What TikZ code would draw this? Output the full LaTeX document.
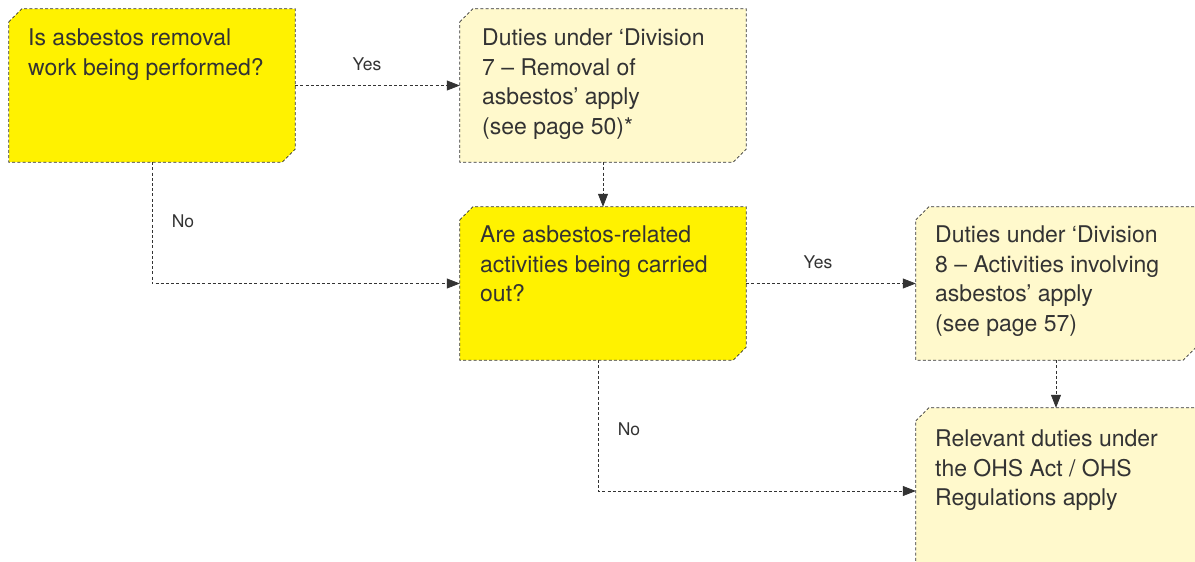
\documentclass[tikz,border=0pt]{standalone}
\usepackage{fontspec}
\setmainfont{TeX Gyre Heros}
\usetikzlibrary{arrows.meta}
\definecolor{qyellow}{HTML}{FFF200}
\definecolor{qpale}{HTML}{FFF9CC}
\definecolor{qtext}{HTML}{333333}
\definecolor{qline}{HTML}{333333}
\newcommand{\chambox}[2]{%
  \path[boxline, fill=#2] ([yshift=-13pt]#1.north west) -- ([xshift=13pt]#1.north west)
    -- (#1.north east) -- ([yshift=13pt]#1.south east) -- ([xshift=-13pt]#1.south east)
    -- (#1.south west) -- cycle;}
\begin{document}
\begin{tikzpicture}[x=1pt,y=-1pt,
  box/.style={rectangle, draw=none, inner sep=0pt, minimum width=286pt, minimum height=153pt},
  boxline/.style={draw=qline, line width=0.7pt, dash pattern=on 3pt off 2.2pt},
  txt/.style={anchor=north west, inner sep=0pt, align=left, text=qtext,
    font=\fontsize{23}{29.5}\selectfont},
  lbl/.style={inner sep=0pt, text=qtext, font=\fontsize{17.5}{20}\selectfont},
  conn/.style={draw=qline, line width=0.7pt, dash pattern=on 3pt off 2.2pt,
    -{Triangle[length=13pt,width=10pt]}}]
\useasboundingbox (0,0) rectangle (1195,562);
\clip (0,0) rectangle (1195,562);
% boxes
\node[box] (B1) at (152,85.5) {};
\node[box] (B2) at (603,85.5) {};
\node[box] (B3) at (603,283.5) {};
\node[box, minimum width=280pt] (B4) at (1056,283.5) {};
\node[box, minimum width=280pt, minimum height=166pt] (B5) at (1056,491) {};
\chambox{B1}{qyellow}
\chambox{B2}{qpale}
\chambox{B3}{qyellow}
\chambox{B4}{qpale}
\chambox{B5}{qpale}
% texts
\node[txt] (t1) at (28,29) {Is asbestos removal\\work being performed?};
\node[txt] (t2) at (482,29) {Duties under ‘Division\\7 – Removal of\\asbestos’ apply\\(see page 50)*};
\node[txt] (t3) at (480,226) {Are asbestos-related\\activities being carried\\out?};
\node[txt] (t4) at (935,226) {Duties under ‘Division\\8 – Activities involving\\asbestos’ apply\\(see page 57)};
\node[txt] (t5) at (935,430) {Relevant duties under\\the OHS Act / OHS\\Regulations apply};
% connectors
\draw[conn] (B1.east) -- (B2.west);
\draw[conn] (B2.south) -- (B3.north);
\draw[conn] (B1.south) |- (B3.west);
\draw[conn] (B3.east) -- (B4.west);
\draw[conn] (B4.south) -- (B5.north);
\draw[conn] ([xshift=-5pt]B3.south) |- (B5.west);
% labels
\node[lbl] (y1) at (367,64) {Yes};
\node[lbl] (n1) at (183,221) {No};
\node[lbl] (y2) at (818,262) {Yes};
\node[lbl] (n2) at (629,429) {No};
\end{tikzpicture}
\end{document}
